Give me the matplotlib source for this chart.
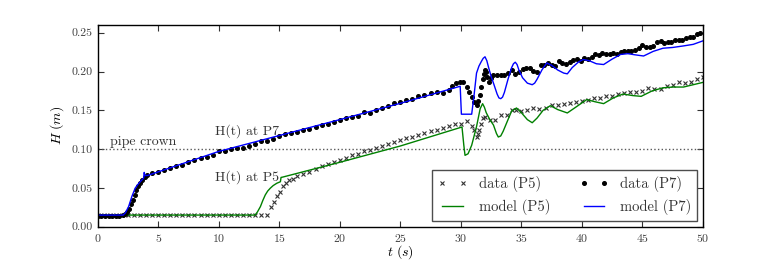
import numpy as np
import matplotlib
matplotlib.use("Agg")
import matplotlib.pyplot as plt
from matplotlib.ticker import FormatStrFormatter

plt.rcParams['font.family'] = ['cmr10', 'DejaVu Serif']
plt.rcParams['mathtext.fontset'] = 'cm'
plt.rcParams['axes.formatter.use_mathtext'] = True

# ---- data (P7, dots) ----
t_p7 = [0.0, 0.3, 0.6, 0.9, 1.2, 1.5, 1.8, 2.1, 2.3, 2.45, 2.6, 2.75, 2.9, 3.05, 3.2, 3.35, 3.5, 3.7, 3.9, 4.1,
        4.5, 5.0, 5.5, 6.0, 6.5, 7.0, 7.5, 8.0, 8.5, 9.0, 9.5, 10.0, 10.5, 11.0, 11.5, 12.0, 12.5, 13.0, 13.5,
        14.0, 14.5, 15.0, 15.5, 16.0, 16.5, 17.0, 17.5, 18.0, 18.5, 19.0, 19.5, 20.0, 20.5, 21.0, 21.5, 22.0,
        22.5, 23.0, 23.5, 24.0, 24.5, 25.0, 25.5, 26.0, 26.5, 27.0, 27.5, 28.0, 28.5, 29.0, 29.3, 29.6, 29.9,
        30.2, 30.5, 30.7, 30.9, 31.1, 31.3, 31.45, 31.6, 31.7, 31.8, 31.9, 32.0, 32.1, 32.2, 32.3, 32.5, 32.7,
        33.0, 33.3, 33.6, 33.9, 34.2, 34.5, 34.8, 35.1, 35.4, 35.7, 36.0, 36.3, 36.6, 36.9, 37.2, 37.5, 37.8,
        38.1, 38.4, 38.7, 39.0, 39.3, 39.6, 39.9, 40.2, 40.5, 40.8, 41.1, 41.4, 41.7, 42.0, 42.3, 42.6, 42.9,
        43.2, 43.5, 43.8, 44.1, 44.4, 44.7, 45.0, 45.3, 45.6, 45.9, 46.2, 46.5, 46.8, 47.1, 47.4, 47.7, 48.0,
        48.3, 48.6, 48.9, 49.2, 49.5, 49.8]
h_p7 = [0.014, 0.014, 0.014, 0.014, 0.014, 0.014, 0.014, 0.015, 0.016, 0.019, 0.023, 0.029, 0.035, 0.041, 0.047,
        0.052, 0.056, 0.060, 0.064, 0.067,
        0.069, 0.071, 0.073, 0.076, 0.078, 0.080, 0.083, 0.086, 0.088, 0.090, 0.093, 0.098, 0.098, 0.100, 0.101,
        0.102, 0.104, 0.107, 0.110, 0.111, 0.113, 0.117, 0.119, 0.121, 0.122, 0.124, 0.126, 0.128, 0.131, 0.133,
        0.135, 0.138, 0.140, 0.142, 0.143, 0.148, 0.146, 0.151, 0.153, 0.155, 0.159, 0.161, 0.163, 0.164, 0.168,
        0.170, 0.172, 0.173, 0.172, 0.176, 0.181, 0.185, 0.186,
        0.186, 0.180, 0.174, 0.167, 0.161, 0.157, 0.162, 0.170, 0.180, 0.190, 0.197, 0.202, 0.199, 0.193, 0.187,
        0.192, 0.196, 0.196, 0.196, 0.196, 0.198, 0.202, 0.197, 0.199, 0.203, 0.204, 0.205, 0.201, 0.200, 0.208,
        0.209, 0.211, 0.208, 0.207, 0.213, 0.211, 0.210, 0.212, 0.215, 0.216, 0.214, 0.217, 0.216, 0.219, 0.222,
        0.221, 0.224, 0.223, 0.222, 0.224, 0.223, 0.225, 0.226, 0.227, 0.227, 0.228, 0.230, 0.234, 0.232, 0.232,
        0.233, 0.238, 0.239, 0.237, 0.238, 0.238, 0.240, 0.240, 0.241, 0.243, 0.244, 0.244, 0.248, 0.249]

# ---- data (P5, crosses) ----
t_p5 = [0.0, 0.5, 1.0, 1.5, 2.0, 2.5, 3.0, 3.5, 4.0, 4.5, 5.0, 5.5, 6.0, 6.5, 7.0, 7.5, 8.0, 8.5, 9.0, 9.5,
        10.0, 10.5, 11.0, 11.5, 12.0, 12.5, 13.0, 13.5, 14.0,
        14.3, 14.55, 14.8, 15.05, 15.3, 15.55, 15.8, 16.1, 16.5, 17.0, 17.5, 18.0, 18.5, 19.0, 19.5, 20.0,
        20.5, 21.0, 21.5, 22.0, 22.5, 23.0, 23.5, 24.0, 24.5, 25.0, 25.5, 26.0, 26.5, 27.0, 27.5, 28.0, 28.5,
        29.0, 29.5, 30.0, 30.5, 30.9, 31.1, 31.3, 31.4, 31.5, 31.65, 31.8, 32.0, 32.4, 32.8, 33.3, 33.8, 34.2,
        34.6, 35.0, 35.5, 36.0, 36.5, 37.0, 37.5, 38.0, 38.5, 39.0, 39.5, 40.0, 40.5, 41.0, 41.5, 42.0, 42.5,
        43.0, 43.5, 44.0, 44.5, 45.0, 45.5, 46.0, 46.5, 47.0, 47.5, 48.0, 48.5, 49.0, 49.5, 50.0]
h_p5 = [0.015, 0.015, 0.015, 0.015, 0.015, 0.015, 0.015, 0.015, 0.015, 0.015, 0.015, 0.015, 0.015, 0.015,
        0.015, 0.015, 0.015, 0.015, 0.015, 0.015, 0.015, 0.015, 0.015, 0.015, 0.015, 0.015, 0.015, 0.015, 0.015,
        0.026, 0.032, 0.039, 0.045, 0.052, 0.056, 0.060, 0.062, 0.065, 0.068, 0.071, 0.075, 0.078, 0.081, 0.084,
        0.086, 0.089, 0.092, 0.094, 0.098, 0.099, 0.101, 0.104, 0.107, 0.109, 0.112, 0.114, 0.115, 0.118, 0.121,
        0.123, 0.125, 0.127, 0.130, 0.132, 0.133, 0.136, 0.130, 0.125, 0.116, 0.119, 0.125, 0.132, 0.140, 0.141,
        0.137, 0.137, 0.144, 0.144, 0.150, 0.151, 0.149, 0.151, 0.153, 0.152, 0.153, 0.157, 0.157, 0.158, 0.160,
        0.161, 0.162, 0.163, 0.166, 0.166, 0.168, 0.169, 0.171, 0.172, 0.173, 0.173, 0.175, 0.179, 0.177, 0.178,
        0.181, 0.183, 0.186, 0.185, 0.187, 0.190, 0.193]

# ---- model (P7, blue) ----
tm_p7 = [0.0, 2.1, 2.3, 2.56, 2.83, 3.1, 3.3, 3.52, 3.8, 3.85, 3.9, 4.1, 4.5, 10.0, 20.0, 25.0, 29.95, 30.05,
         30.9, 31.1, 31.3, 31.5, 31.7, 31.85, 32.0, 32.15, 32.3, 32.5, 32.7, 33.0, 33.15, 33.3, 33.45, 33.6,
         33.9, 34.2, 34.35, 34.5, 34.65, 34.8, 35.1, 35.5, 35.9, 36.1, 36.3, 36.7, 37.1, 37.5, 38.0, 38.5, 38.8,
         39.2, 39.7, 40.1, 40.6, 41.2, 41.8, 42.5, 43.2, 43.8, 44.4, 45.1, 45.9, 46.7, 47.5, 48.4, 49.2, 50.0]
hm_p7 = [0.015, 0.015, 0.018, 0.026, 0.039, 0.0496, 0.054, 0.058, 0.0626, 0.070, 0.066, 0.066, 0.068, 0.097,
         0.138, 0.159, 0.181, 0.145, 0.145, 0.170, 0.198, 0.207, 0.213, 0.217, 0.219, 0.214, 0.205, 0.194, 0.185,
         0.171, 0.166, 0.165, 0.167, 0.173, 0.190, 0.205, 0.210, 0.212, 0.209, 0.202, 0.192, 0.185, 0.183, 0.185,
         0.190, 0.202, 0.211, 0.208, 0.202, 0.198, 0.197, 0.205, 0.212, 0.2155, 0.214, 0.210, 0.209, 0.216, 0.222,
         0.223, 0.2215, 0.220, 0.226, 0.230, 0.231, 0.233, 0.235, 0.2395]

# ---- model (P5, green) ----
tm_p5 = [0.0, 13.0, 13.2, 13.45, 13.65, 13.85, 14.05, 14.26, 14.5, 14.8, 15.1, 15.15, 15.3, 20.0, 25.0, 30.1,
         30.25, 30.35, 30.6, 30.9, 31.3, 31.6, 31.8, 31.95, 32.1, 32.4, 32.7, 32.95, 33.1, 33.3, 33.5, 33.9,
         34.2, 34.6, 35.0, 35.5, 35.9, 36.3, 36.8, 37.4, 38.0, 38.8, 39.4, 40.4, 41.1, 41.8, 42.6, 43.4, 44.2,
         44.9, 45.8, 46.7, 47.5, 48.4, 49.2, 50.0]
hm_p5 = [0.015, 0.015, 0.019, 0.026, 0.034, 0.041, 0.046, 0.0496, 0.053, 0.056, 0.058, 0.0635, 0.064, 0.083,
         0.104, 0.1285, 0.105, 0.092, 0.094, 0.105, 0.129, 0.152, 0.1586, 0.154, 0.147, 0.138, 0.131, 0.120,
         0.1156, 0.117, 0.123, 0.138, 0.149, 0.153, 0.147, 0.138, 0.134, 0.140, 0.150, 0.156, 0.151, 0.1466,
         0.153, 0.1638, 0.161, 0.1586, 0.166, 0.171, 0.169, 0.168, 0.175, 0.179, 0.180, 0.180, 0.183, 0.186]

pipe_crown = 0.10
x_ticks = [0, 5, 10, 15, 20, 25, 30, 35, 40, 45, 50]
y_ticks = [0.00, 0.05, 0.10, 0.15, 0.20, 0.25]

fig = plt.figure(figsize=(7.81, 2.60), dpi=100)
ax = fig.add_subplot(111)
fig.subplots_adjust(left=0.125, right=0.9, bottom=0.128, top=0.904)

ax.axhline(pipe_crown, color='0.35', linestyle=':', linewidth=1.0)
ax.plot(t_p5, h_p5, linestyle='none', marker='x', color='0.2', markersize=3.5, markeredgewidth=0.8,
        label='data (P5)')
ax.plot(tm_p5, hm_p5, color='g', linewidth=1.0, label='model (P5)')
ax.plot(t_p7, h_p7, linestyle='none', marker='o', color='k', markersize=2.6, label='data (P7)')
ax.plot(tm_p7, hm_p7, color='b', linewidth=1.0, label='model (P7)')

ax.text(1.04, 0.1055, 'pipe crown', fontsize=10, color='0.2', va='baseline', ha='left')
ax.text(9.72, 0.1185, 'H(t) at P7', fontsize=10, color='0.2', va='baseline', ha='left')
ax.text(9.72, 0.0595, 'H(t) at P5', fontsize=10, color='0.2', va='baseline', ha='left')

ax.set_xlim(0, 50)
ax.set_ylim(0, 0.26)
ax.set_xticks(x_ticks)
ax.set_yticks(y_ticks)
ax.yaxis.set_major_formatter(FormatStrFormatter('%.2f'))
ax.tick_params(direction='in', top=True, right=True, length=4, labelsize=8.5, colors='0.2', labelcolor='0.25')
ax.set_xlabel(r'$t\ (s)$', fontsize=10, labelpad=0)
ax.set_ylabel(r'$H\ (m)$', fontsize=10)
for s in ax.spines.values():
    s.set_linewidth(1.0)
    s.set_color('k')

leg = ax.legend(loc='lower right', ncol=2, numpoints=2, fontsize=10.5, fancybox=False, framealpha=1,
                edgecolor='0.3', borderaxespad=0.4, columnspacing=2.0, handlelength=2.0)
leg.get_frame().set_linewidth(1.0)
for txt in leg.get_texts():
    txt.set_color('0.2')

fig.savefig('out.png', dpi=100)
